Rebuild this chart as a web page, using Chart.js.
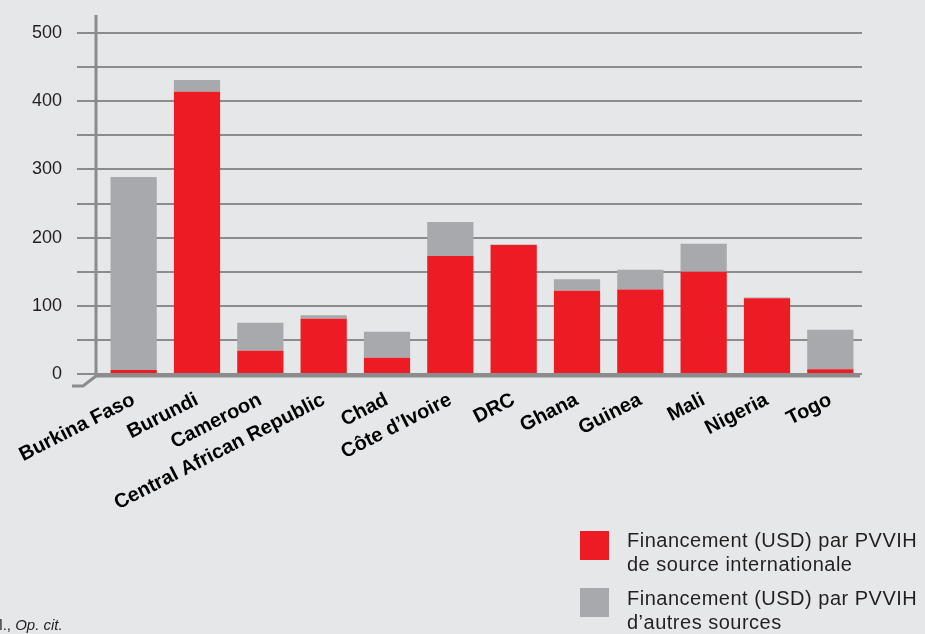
<!DOCTYPE html>
<html>
<head>
<meta charset="utf-8">
<script src="https://cdn.jsdelivr.net/npm/chart.js@4/dist/chart.umd.min.js"></script>
<style>
	html, body { margin: 0; padding: 0; background: #e6e7e8; }
	#wrap { position: relative; width: 925px; height: 634px; overflow: hidden; }
	#chart { position: absolute; left: 0; top: 0; }
	.legend { position: absolute; left: 580px; font-family: "Liberation Sans", Arial, sans-serif; font-size: 20px; letter-spacing: 0.5px; line-height: 24px; color: #231f20; }
	.legend .box { position: absolute; left: 0; width: 29px; height: 29px; }
	.legend .txt { position: absolute; left: 47px; white-space: nowrap; }
	#note { position: absolute; left: -9px; top: 616px; font-family: "Liberation Sans", Arial, sans-serif; font-size: 15px; color: #231f20; }
</style>
</head>
<body>
<div id="wrap">
	<canvas id="chart" width="925" height="634"></canvas>
	<div class="legend" style="top:531px">
		<div class="box" style="top:0; background:#ed1c24"></div>
		<div class="txt" style="top:-3px">Financement (USD) par PVVIH<br>de source internationale</div>
	</div>
	<div class="legend" style="top:588px">
		<div class="box" style="top:0; background:#a7a9ac"></div>
		<div class="txt" style="top:-2px">Financement (USD) par PVVIH<br>d’autres sources</div>
	</div>
	<div id="note">al., <i>Op. cit.</i></div>
</div>
<script>
const countries = ['Burkina Faso', 'Burundi', 'Cameroon', 'Central African Republic', 'Chad', 'Côte d’Ivoire', 'DRC', 'Ghana', 'Guinea', 'Mali', 'Nigeria', 'Togo'];
const international = [6, 414, 34, 81, 24, 173, 189, 122, 124, 150, 111, 7];
const otherSources = [283, 17, 41, 5, 38, 50, 1, 17, 29, 41, 1, 58];
const yTicks = [0, 100, 200, 300, 400, 500];

const RED = '#ed1c24';
const GREY = '#a7a9ac';
const LINE = '#8c8c8c';

// axis wall and floor edge
const axisFrame = {
	id: 'axisFrame',
	afterDatasetsDraw(chart) {
		const ctx = chart.ctx;
		const y = chart.scales.y;
		const x0 = 96;
		const base = y.getPixelForValue(0) + 2;
		ctx.save();
		ctx.strokeStyle = LINE;
		ctx.lineWidth = 3;
		ctx.beginPath();
		ctx.moveTo(x0, 15);
		ctx.lineTo(x0, base);
		ctx.lineTo(chart.chartArea.right - 2, base);
		ctx.stroke();
		ctx.beginPath();
		ctx.moveTo(x0, base);
		ctx.lineTo(83, base + 10);
		ctx.lineTo(72, base + 10);
		ctx.stroke();
		ctx.restore();
	}
};

new Chart(document.getElementById('chart'), {
	type: 'bar',
	data: {
		labels: countries,
		datasets: [
			{
				label: 'Financement (USD) par PVVIH de source internationale',
				data: international,
				backgroundColor: RED,
				barPercentage: 0.73,
				categoryPercentage: 1.0
			},
			{
				label: 'Financement (USD) par PVVIH d’autres sources',
				data: otherSources,
				backgroundColor: GREY,
				barPercentage: 0.73,
				categoryPercentage: 1.0
			}
		]
	},
	options: {
		responsive: false,
		animation: false,
		layout: { padding: { top: 33, right: 63, left: 0, bottom: 0 } },
		plugins: {
			legend: { display: false },
			tooltip: { enabled: false }
		},
		scales: {
			x: {
				stacked: true,
				afterFit(scale) { scale.height = 260; },
				grid: { display: false, drawTicks: false },
				border: { display: false },
				ticks: {
					autoSkip: false,
					minRotation: 27,
					maxRotation: 27,
					padding: 14,
					color: '#000',
					font: { family: 'Liberation Sans, Arial, sans-serif', size: 20, weight: 'bold' }
				}
			},
			y: {
				stacked: true,
				min: 0,
				max: 500,
				afterFit(scale) { scale.width = 102; },
				afterBuildTicks(scale) {
					scale.ticks = [];
					for (let v = 0; v <= 500; v += 50) scale.ticks.push({ value: v });
				},
				grid: { color: LINE, lineWidth: 2, tickLength: 25 },
				border: { display: false },
				ticks: {
					padding: 15,
					color: '#231f20',
					font: { family: 'Liberation Sans, Arial, sans-serif', size: 18 },
					callback: (v) => yTicks.includes(v) ? String(v) : ''
				}
			}
		}
	},
	plugins: [axisFrame]
});
</script>
</body>
</html>
